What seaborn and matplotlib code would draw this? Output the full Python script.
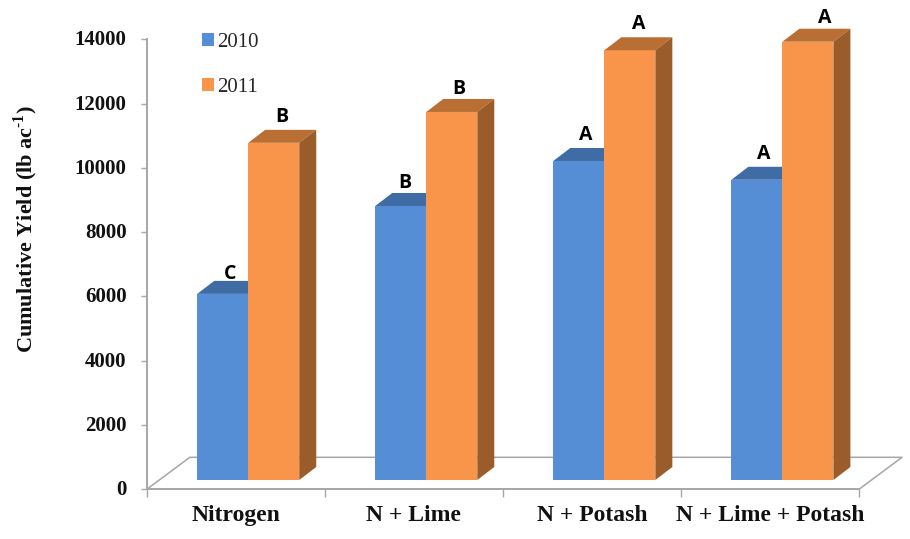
import numpy as np
import pandas as pd
import matplotlib
matplotlib.use("Agg")
import matplotlib.pyplot as plt
from matplotlib.patches import Polygon
from matplotlib.transforms import ScaledTranslation
import seaborn as sns

# Cumulative yield per fertility treatment
treatments = ["Nitrogen", "N + Lime", "N + Potash", "N + Lime + Potash"]
yield_2010 = [5790, 8525, 9925, 9340]
yield_2011 = [10490, 11450, 13370, 13635]
letters_2010 = ["C", "B", "A", "A"]
letters_2011 = ["B", "B", "A", "A"]
years = ["2010", "2011"]

sns.set_theme(style="white")
SERIF = "Liberation Serif"
plt.rcParams["font.family"] = SERIF
plt.rcParams["mathtext.fontset"] = "custom"
plt.rcParams["mathtext.bf"] = f"{SERIF}:bold"
plt.rcParams["mathtext.rm"] = f"{SERIF}:bold"

W, H = 910, 539
AX_L, AX_R, AX_T, AX_B = 146.8, 859.0, 39.3, 489.3
GREY = "#a6a6a6"
face = {"2010": "#558ed5", "2011": "#f9954a"}
top_face = {"2010": "#3f6ca5", "2011": "#b96f33"}
side_face = {"2010": "#3a6396", "2011": "#9a5c2a"}

fig = plt.figure(figsize=(W / 100, H / 100), dpi=100)
ax = fig.add_axes([AX_L / W, 1 - AX_B / H, (AX_R - AX_L) / W, (AX_B - AX_T) / H])

df = pd.DataFrame({
    "treatment": treatments * 2,
    "year": [years[0]] * 4 + [years[1]] * 4,
    "value": yield_2010 + yield_2011,
})

# Screen pixels to data units
px_x = 4 / (AX_R - AX_L)
px_y = 14000 / (AX_B - AX_T)
base = 9.3 * px_y          # bars stand a little inside the floor
shift = 12.4 * px_x        # and are pushed toward its far side
depth_x, depth_y = 17 * px_x, 13 * px_y
floor_x, floor_y = 43 * px_x, 32 * px_y

sns.barplot(data=df, x="treatment", y="value", hue="year", order=treatments,
            hue_order=years, palette=face, width=0.573, gap=0, saturation=1,
            errorbar=None, linewidth=0, ax=ax, zorder=3)

ax.set_xlim(-0.5, 3.5)
ax.set_ylim(0, 14000)

# Floor of the box, behind the bars
ax.plot([-0.5, -0.5 + floor_x, 3.5 + floor_x, 3.5], [0, floor_y, floor_y, 0],
        color=GREY, lw=1.1, clip_on=False, zorder=1)

# Top and side faces plus the significance letters
letter_nudge = {
    "2010": [(-0.7, 5.0), (-3.0, 7.3), (-1.4, 9.3), (-1.4, 9.3)],
    "2011": [(0.0, 9.4), (-0.7, 7.3), (0.0, 9.6), (5.8, 7.6)],
}
letters = {"2010": letters_2010, "2011": letters_2011}
for year, container in zip(years, ax.containers):
    z = 2 if year == "2010" else 3
    for i, bar in enumerate(container):
        bar.set_x(bar.get_x() + shift)
        bar.set_y(base)
        bar.set_zorder(z)
        x0, x1 = bar.get_x(), bar.get_x() + bar.get_width()
        y1 = bar.get_y() + bar.get_height()
        y0 = bar.get_y()
        ax.add_patch(Polygon(
            [(x0, y1), (x0 + depth_x, y1 + depth_y),
             (x1 + depth_x, y1 + depth_y), (x1, y1)],
            closed=True, fc=top_face[year], ec="none", clip_on=False, zorder=z))
        ax.add_patch(Polygon(
            [(x1, y0), (x1 + depth_x, y0 + depth_y),
             (x1 + depth_x, y1 + depth_y), (x1, y1)],
            closed=True, fc=side_face[year], ec="none", clip_on=False, zorder=z))
        ax.annotate(letters[year][i],
                    xy=((x0 + x1) / 2 + depth_x / 2, y1 + depth_y),
                    xytext=letter_nudge[year][i], textcoords="offset points",
                    ha="center", va="center", fontsize=14, fontweight="bold",
                    family="Open Sans", color="black", annotation_clip=False,
                    zorder=5)

# Axes styling
for side in ("top", "right"):
    ax.spines[side].set_visible(False)
for side in ("left", "bottom"):
    ax.spines[side].set_color(GREY)
    ax.spines[side].set_linewidth(1.4)

ax.set_yticks(np.arange(0, 14001, 2000))
ax.tick_params(axis="y", left=True, length=4, width=1, color=GREY, pad=10.5,
               labelsize=15, labelcolor="#111111")
ax.set_xticks(range(len(treatments)))
ax.set_xticklabels(treatments)
ax.set_xticks(np.arange(-0.5, 4), minor=True)
ax.tick_params(axis="x", which="major", bottom=False, length=0, pad=11,
               labelsize=17, labelcolor="#111111")
ax.tick_params(axis="x", which="minor", bottom=True, length=6, width=1, color=GREY)
for label in ax.get_xticklabels() + ax.get_yticklabels():
    label.set_fontweight("bold")
# The value labels sit slightly above their tick marks
raise_labels = ScaledTranslation(0, 1.5 / 100, fig.dpi_scale_trans)
for label in ax.get_yticklabels():
    label.set_transform(label.get_transform() + raise_labels)

ax.set_xlabel("")
ax.set_ylabel(r"Cumulative Yield (lb ac$^{\text{-}1}$)", fontsize=16,
              fontweight="bold", color="#111111")
ax.yaxis.set_label_coords((40 - AX_L) / (AX_R - AX_L), (AX_B - 229) / (AX_B - AX_T))

sns.move_legend(ax, "upper left", bbox_to_anchor=(187 / W, 1 - 18.5 / H),
                bbox_transform=fig.transFigure, frameon=False, title=None,
                fontsize=15, handlelength=0.6, handleheight=0.6,
                handletextpad=0.15, labelspacing=1.23, borderpad=0.2)

fig.savefig("out.png", dpi=100, facecolor="white")
